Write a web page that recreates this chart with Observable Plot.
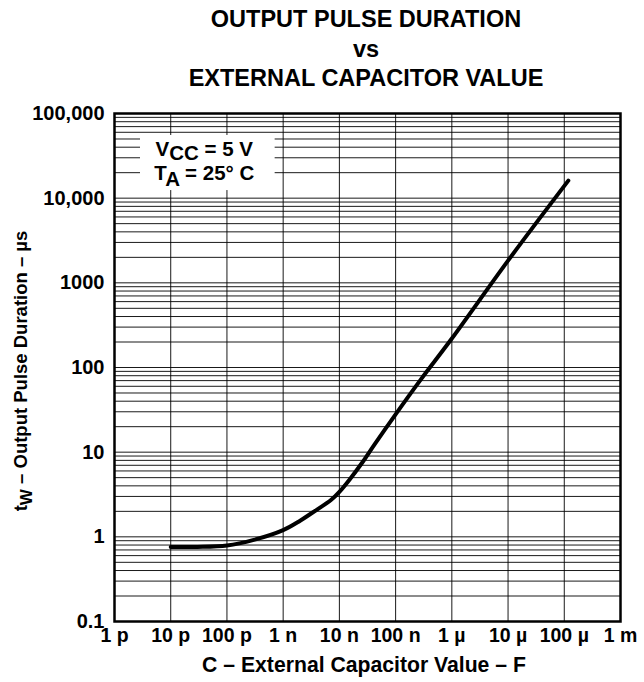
<!DOCTYPE html>
<html><head><meta charset="utf-8">
<script src="https://cdn.jsdelivr.net/npm/d3@7"></script>
<script src="https://cdn.jsdelivr.net/npm/@observablehq/plot@0.6"></script>
<style>
body{margin:0;background:#fff;font-family:"Liberation Sans",Arial,sans-serif;}
#title{height:90px;box-sizing:border-box;padding-top:5px;padding-left:88px;width:644px;text-align:center;font-weight:bold;font-size:23.5px;line-height:29.5px;color:#000;}
#chart svg{display:block;}
</style></head><body>
<div id="title"><div>OUTPUT PULSE DURATION</div><div>vs</div><div>EXTERNAL CAPACITOR VALUE</div></div>
<div id="chart"></div>
<script>
// Curve: external capacitor value (F) vs output pulse duration (µs)
const capacitance = [1e-11, 3e-11, 1e-10, 3e-10, 1e-9, 2e-9, 4e-9, 7e-9, 1e-8, 1.5e-8, 2.5e-8, 4.2e-8, 1e-7, 2.8e-7, 1e-6, 1e-5, 1.18e-4];
const pulseWidth  = [0.76, 0.76, 0.79, 0.92, 1.2, 1.55, 2.1, 2.7, 3.4, 4.7, 7.4, 12.3, 28, 72, 220, 1830, 16100];

const xTickValues = [1e-12, 1e-11, 1e-10, 1e-9, 1e-8, 1e-7, 1e-6, 1e-5, 1e-4, 1e-3];
const xTickLabels = ["1 p", "10 p", "100 p", "1 n", "10 n", "100 n", "1 µ", "10 µ", "100 µ", "1 m"];
const yTickValues = [0.1, 1, 10, 100, 1000, 10000, 100000];
const yTickLabels = ["0.1", "1", "10", "100", "1000", "10,000", "100,000"];

const xTitle = "C – External Capacitor Value – F";
const yTitleMain = "t";
const yTitleSub = "W";
const yTitleRest = " – Output Pulse Duration – µs";
const legendLines = [["V", "CC", " = 5 V"], ["T", "A", " = 25° C"]];
// legend box corners in data units (capacitance, pulse width)
const legendX = [2.9e-12, 7.2e-10];
const legendY = [55000, 12300];

const xLab = new Map(xTickValues.map((v, i) => [v, xTickLabels[i]]));
const yLab = new Map(yTickValues.map((v, i) => [v, yTickLabels[i]]));
const data = capacitance.map((c, i) => ({c, t: pulseWidth[i]}));
const yGrid = d3.scaleLog().domain([0.1, 100000]).ticks();

const W = 644, H = 592;
const plot = Plot.plot({
  width: W, height: H,
  marginTop: 23, marginBottom: 61, marginLeft: 114, marginRight: 24,
  style: {fontFamily: '"Liberation Sans", Arial, sans-serif', fontSize: "19.5px", fontWeight: "bold", color: "#000", background: "#fff"},
  x: {type: "log", domain: [1e-12, 1e-3], label: null},
  y: {type: "log", domain: [0.1, 100000], label: null},
  marks: [
    Plot.gridY(yGrid, {stroke: "#000", strokeOpacity: 0.9, strokeWidth: 1}),
    Plot.gridX(xTickValues, {stroke: "#000", strokeOpacity: 0.9, strokeWidth: 1}),
    Plot.rect([0], {x1: () => legendX[0], x2: () => legendX[1], y1: () => legendY[0], y2: () => legendY[1], fill: "#fff"}),
    Plot.axisX(xTickValues, {tickSize: 0, tickPadding: 7, tickFormat: d => xLab.get(d), label: null}),
    Plot.axisY(yTickValues, {tickSize: 0, tickPadding: 10, tickFormat: d => yLab.get(d), label: null, fontSize: 20}),
    Plot.line(data, {x: "c", y: "t", stroke: "#000", strokeWidth: 4, curve: "catmull-rom"}),
    Plot.frame({stroke: "#000", strokeWidth: 2.5})
  ]
});
document.getElementById("chart").appendChild(plot);

const svg = d3.select(plot);
const sx = plot.scale("x"), sy = plot.scale("y");
const x0 = sx.apply(1e-12), x1 = sx.apply(1e-3);
const yTop = sy.apply(100000), yBot = sy.apply(0.1);

// x axis title
svg.append("text").attr("x", (x0 + x1) / 2 - 3).attr("y", yBot + 51)
  .attr("text-anchor", "middle").attr("font-size", 21.2).attr("font-weight", "bold").text(xTitle);

// y axis title
const yt = svg.append("text")
  .attr("transform", `translate(27,${(yTop + yBot) / 2 + 4}) rotate(-90)`)
  .attr("text-anchor", "middle").attr("font-size", 18.5).attr("font-weight", "bold");
yt.append("tspan").text(yTitleMain);
yt.append("tspan").attr("dy", 5).attr("font-size", 17).text(yTitleSub);
yt.append("tspan").attr("dy", -5).text(yTitleRest);

// legend text
const lx = (sx.apply(legendX[0]) + sx.apply(legendX[1])) / 2 - 3;
const ly = sy.apply(legendY[0]);
legendLines.forEach((ln, i) => {
  const t = svg.append("text").attr("x", lx).attr("y", ly + 21 + i * 24)
    .attr("text-anchor", "middle").attr("font-size", 20.5).attr("font-weight", "bold");
  t.append("tspan").text(ln[0]);
  t.append("tspan").attr("dy", i === 0 ? 4 : 6).text(ln[1]);
  t.append("tspan").attr("dy", i === 0 ? -4 : -6).text(ln[2]);
});
</script>
</body></html>
